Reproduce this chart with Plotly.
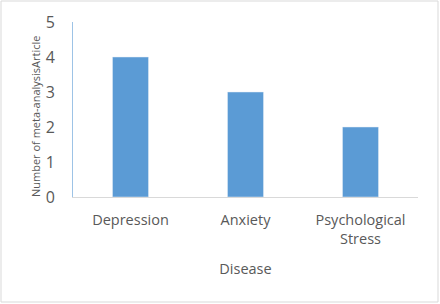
import plotly.graph_objects as go

categories = ["Depression", "Anxiety", "Psychological Stress"]
tick_labels = ["Depression", "Anxiety", "Psychological<br>Stress"]
values = [4, 3, 2]
y_ticks = [0, 1, 2, 3, 4, 5]

W, H = 440, 304
L, R, T, B = 73, 22, 22, 107
pw, ph = W - L - R, H - T - B

font_fam = "Open Sans, Liberation Sans, sans-serif"
gray = "#595959"

fig = go.Figure(go.Bar(x=categories, y=values, marker_color="#5B9BD5", width=0.313))
fig.update_layout(
    width=W, height=H,
    margin=dict(l=L, r=R, t=T, b=B),
    paper_bgcolor="white", plot_bgcolor="white",
    showlegend=False,
    font=dict(family=font_fam, color=gray),
    xaxis=dict(tickmode="array", tickvals=categories, ticktext=tick_labels,
               showline=True, linecolor="#d9d9d9", linewidth=1, showgrid=False,
               ticks="", tickfont=dict(size=14.5, color=gray), ticklabelstandoff=10,
               title=dict(text="Disease", font=dict(size=14.5, color=gray), standoff=16)),
    yaxis=dict(range=[0, 5], tickvals=y_ticks, showline=True, linecolor="#9dc3e6", linewidth=1,
               showgrid=False, zeroline=False, ticks="", ticklabelstandoff=14,
               tickfont=dict(size=16, color=gray)),
    annotations=[dict(text="Number of meta-analysisArticle", xref="paper", yref="paper",
                      x=(35 - L) / pw, y=(197 - 117) / ph,
                      textangle=-90, showarrow=False, font=dict(size=11, color=gray),
                      xanchor="center", yanchor="middle")],
    shapes=[dict(type="rect", xref="paper", yref="paper",
                 x0=(1 - L) / pw, x1=(438 - L) / pw, y0=-(B - 2) / ph,
                 y1=1 + (T - 1) / ph, line=dict(color="#d9d9d9", width=1))],
)
fig.write_html("out.html", config={"displayModeBar": False},
               post_script="document.body.style.margin='0';")
